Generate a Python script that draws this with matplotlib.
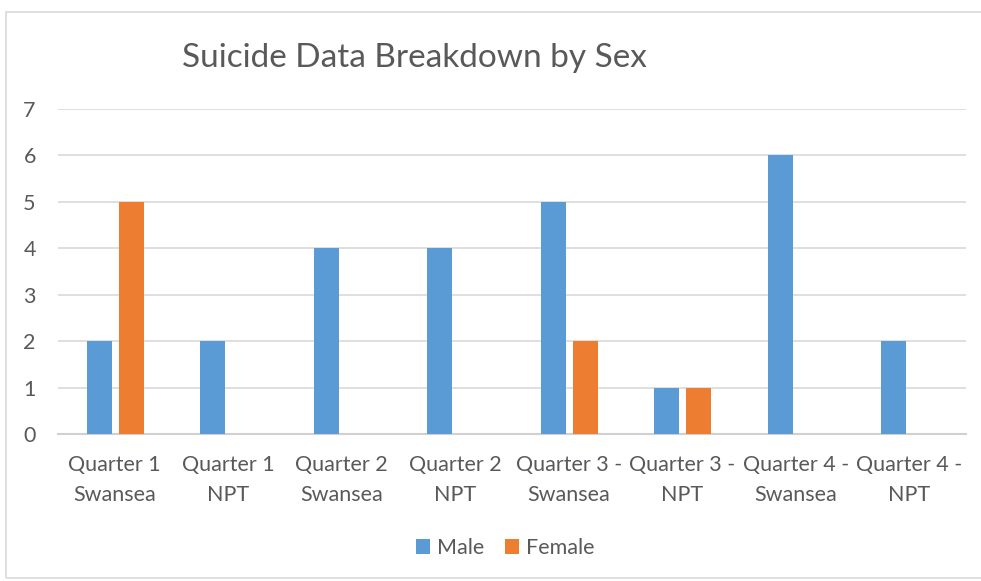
import numpy as np
import matplotlib.pyplot as plt
from matplotlib.patches import Rectangle

# data
categories = ["Quarter 1\nSwansea", "Quarter 1\nNPT", "Quarter 2\nSwansea", "Quarter 2\nNPT",
              "Quarter 3 -\nSwansea", "Quarter 3 -\nNPT", "Quarter 4 -\nSwansea", "Quarter 4 -\nNPT"]
male = [2, 2, 4, 4, 5, 1, 6, 2]
female = [5, 0, 0, 0, 2, 1, 0, 0]
yticks = [0, 1, 2, 3, 4, 5, 6, 7]

plt.rcParams['font.family'] = ['Lato', 'DejaVu Sans']
text_color = "#595959"

fig = plt.figure(figsize=(9.81, 5.81), dpi=100)
ax = fig.add_axes([0.0591, 0.253, 0.9256, 0.5594])

x = np.arange(len(categories))
w = 0.22
ax.bar(x - 0.135, male, width=w, color="#5b9bd5", label="Male", zorder=3)
ax.bar(x + 0.145, female, width=w, color="#ed7d31", label="Female", zorder=3)

ax.set_xlim(-0.5, len(categories) - 0.5)
ax.set_ylim(0, 7)
ax.set_yticks(yticks)
ax.set_xticks(x)
ax.set_xticklabels(categories, fontsize=15.5, color=text_color, linespacing=1.65)
ax.tick_params(axis='y', labelsize=15.5, labelcolor=text_color, length=0, pad=16)
ax.tick_params(axis='x', length=0, pad=15)
ax.grid(axis='y', color="#d9d9d9", linewidth=1.2, zorder=0)
for s in ["top", "right", "left"]:
    ax.spines[s].set_visible(False)
ax.spines["bottom"].set_color("#d0d0d0")
ax.spines["bottom"].set_linewidth(1.5)

fig.text(0.422, 0.9, "Suicide Data Breakdown by Sex", fontsize=24, color=text_color,
         ha="center", va="center")

leg = fig.legend(loc="center", bbox_to_anchor=(0.515, 0.057), ncol=2, frameon=False,
                 fontsize=15.5, handlelength=0.65, handleheight=0.65, handletextpad=0.3,
                 columnspacing=1.0)
for t in leg.get_texts():
    t.set_color(text_color)

# chart border
fig.patches.append(Rectangle((6 / 981, 3 / 581), 1.0, 566 / 581, transform=fig.transFigure,
                             fill=False, edgecolor="#d9d9d9", linewidth=1.2))

plt.savefig("out.png", dpi=100)
